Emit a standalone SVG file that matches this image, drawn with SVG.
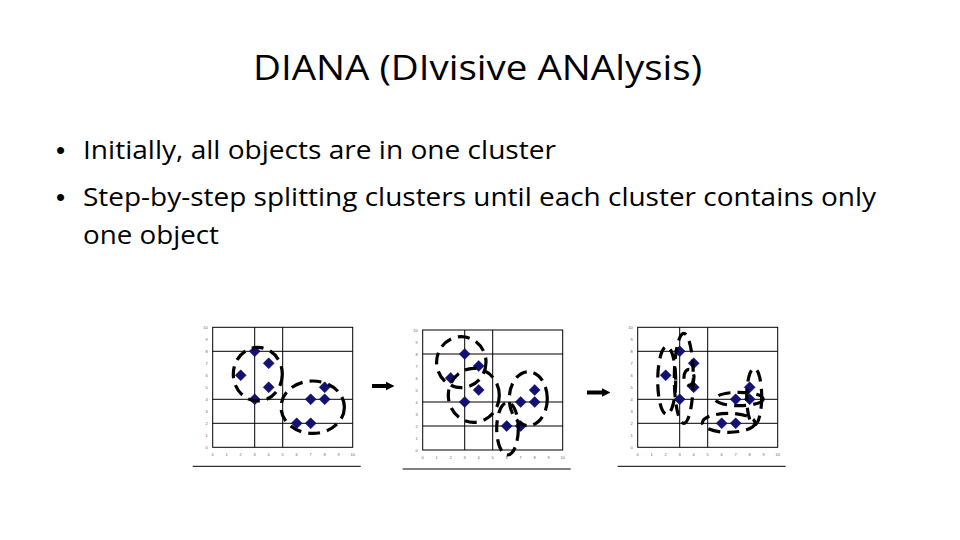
<svg xmlns="http://www.w3.org/2000/svg" xmlns:xlink="http://www.w3.org/1999/xlink" width="960" height="540" viewBox="0 0 960 540">
<style>
.title{font-family:"Open Sans","Liberation Sans",Arial,sans-serif;font-size:35px;fill:#000}
.body{font-family:"Open Sans","Liberation Sans",Arial,sans-serif;font-size:25px;fill:#000}
.bul{font-family:"Liberation Sans",Arial,sans-serif;font-size:26px;fill:#000}
.grid{fill:none;stroke:#000;stroke-width:1}
.tick{font-family:"Liberation Sans",Arial,sans-serif;font-size:4px;fill:#666}
.pt{fill:#111177;stroke:#0a0a55;stroke-width:0.5}
.clu{fill:none;stroke:#000;stroke-width:3.2;stroke-dasharray:12 7}
.arr{stroke:#000;stroke-width:4}
</style>
<defs>
<polygon id="dia" class="pt" points="0,-5.5 5.5,0 0,5.5 -5.5,0"/>
<marker id="ah" viewBox="0 0 10 10" refX="5" refY="5" markerWidth="2.2" markerHeight="2.8" orient="auto" markerUnits="strokeWidth">
<path d="M0,0 L10,5 L0,10 Z" fill="#000"/>
</marker>
<g id="chart">
<rect class="grid" x="0" y="0" width="140" height="120"/>
<path class="grid" d="M42,0V120M70,0V120M0,24H140M0,72H140M0,96H140"/>
<g class="tick" text-anchor="end">
<text x="-5" y="1.5">10</text><text x="-5" y="13.5">9</text><text x="-5" y="25.5">8</text><text x="-5" y="37.5">7</text><text x="-5" y="49.5">6</text><text x="-5" y="61.5">5</text><text x="-5" y="73.5">4</text><text x="-5" y="85.5">3</text><text x="-5" y="97.5">2</text><text x="-5" y="109.5">1</text><text x="-5" y="121.5">0</text>
</g>
<g class="tick" text-anchor="middle">
<text x="0" y="129">0</text><text x="14" y="129">1</text><text x="28" y="129">2</text><text x="42" y="129">3</text><text x="56" y="129">4</text><text x="70" y="129">5</text><text x="84" y="129">6</text><text x="98" y="129">7</text><text x="112" y="129">8</text><text x="126" y="129">9</text><text x="140" y="129">10</text>
</g>
<use xlink:href="#dia" x="42" y="24"/><use xlink:href="#dia" x="56" y="36"/><use xlink:href="#dia" x="28" y="48"/><use xlink:href="#dia" x="56" y="60"/><use xlink:href="#dia" x="42" y="72"/><use xlink:href="#dia" x="98" y="72"/><use xlink:href="#dia" x="112" y="72"/><use xlink:href="#dia" x="112" y="60"/><use xlink:href="#dia" x="84" y="96"/><use xlink:href="#dia" x="98" y="96"/>
<line x1="-20" y1="139" x2="148" y2="139" stroke="#000" stroke-width="1"/>
</g>
</defs>
<rect width="960" height="540" fill="#fff"/>
<g id="title"><text class="title" x="253" y="80" textLength="449" lengthAdjust="spacingAndGlyphs">DIANA (DIvisive ANAlysis)</text></g>
<g id="bullets">
<text class="bul" x="56" y="159">•</text>
<text class="body" x="83" y="159" textLength="473" lengthAdjust="spacingAndGlyphs">Initially, all objects are in one cluster</text>
<text class="bul" x="56" y="206">•</text>
<text class="body" x="83" y="206" textLength="793" lengthAdjust="spacingAndGlyphs">Step-by-step splitting clusters until each cluster contains only</text>
<text class="body" x="83" y="244" textLength="136" lengthAdjust="spacingAndGlyphs">one object</text>
</g>
<g id="chart1">
<use xlink:href="#chart" transform="translate(212.7,327.3)"/>
<ellipse class="clu" cx="257.8" cy="374.2" rx="24.5" ry="26.8"/>
<ellipse class="clu" cx="312.7" cy="407.2" rx="31.7" ry="26.2"/>
</g>
<g id="chart2">
<use xlink:href="#chart" transform="translate(422.7,330)"/>
<ellipse class="clu" cx="461.3" cy="362.2" rx="24.7" ry="25.5"/>
<ellipse class="clu" cx="473.8" cy="395.3" rx="25.5" ry="27"/>
<ellipse class="clu" cx="528.3" cy="398.7" rx="19" ry="27"/>
<ellipse class="clu" cx="507.5" cy="428.7" rx="10.8" ry="26.3"/>
</g>
<g id="chart3">
<use xlink:href="#chart" transform="translate(637.7,327.3)"/>
<ellipse class="clu" cx="666.7" cy="380.5" rx="9" ry="33.8"/>
<ellipse class="clu" cx="683.8" cy="378.3" rx="9.5" ry="45"/>
<ellipse class="clu" cx="689" cy="377.3" rx="5" ry="8"/>
<ellipse class="clu" cx="754.2" cy="396.7" rx="7.5" ry="28.3"/>
<ellipse class="clu" cx="739.2" cy="399" rx="24" ry="6.7"/>
<ellipse class="clu" cx="728.7" cy="422.8" rx="26.3" ry="9.5"/>
</g>
<g id="connectors">
<line class="arr" x1="372" y1="386" x2="390" y2="386" marker-end="url(#ah)"/>
<line class="arr" x1="587" y1="392.5" x2="606" y2="392.5" marker-end="url(#ah)"/>
</g>
</svg>
